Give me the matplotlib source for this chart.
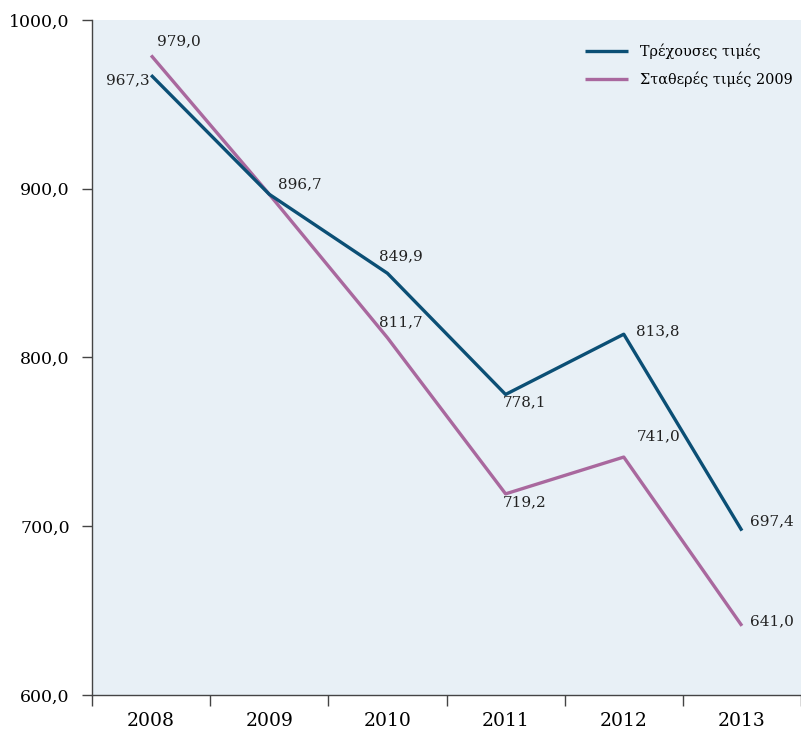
import matplotlib.pyplot as plt
from matplotlib.ticker import FixedLocator, FuncFormatter

years = ["2008", "2009", "2010", "2011", "2012", "2013"]
current_prices = [967.3, 896.7, 849.9, 778.1, 813.8, 697.4]
constant_prices = [979.0, 896.7, 811.7, 719.2, 741.0, 641.0]
y_ticks = [600, 700, 800, 900, 1000]

# label offsets in points (dx, dy, ha, va); None = no label
current_offsets = [(-1, -4, "right", "center"), (6, 7, "left", "center"),
                   (-6, 12, "left", "center"), (-2, -6, "left", "center"),
                   (9, 2, "left", "center"), (6, 7, "left", "center")]
constant_offsets = [(4, 10, "left", "center"), None,
                    (-6, 11, "left", "center"), (-2, -6, "left", "center"),
                    (9, 15, "left", "center"), (6, 3, "left", "center")]

plt.rcParams["font.family"] = ["DejaVu Serif"]

fig = plt.figure(figsize=(8.01, 7.34), dpi=100)
ax = fig.add_axes([0.1149, 0.0531, 0.8851, 0.9197])
ax.set_facecolor("#e8f0f6")

x = list(range(len(years)))
ax.plot(x, current_prices, color="#0b4f75", lw=2.4, label="Τρέχουσες τιμές",
        solid_capstyle="butt", zorder=3)
ax.plot(x, constant_prices, color="#a9689e", lw=2.4, label="Σταθερές τιμές 2009",
        solid_capstyle="butt", zorder=2)

def fmt(v):
    return f"{v:.1f}".replace(".", ",")

for values, offsets in ((current_prices, current_offsets), (constant_prices, constant_offsets)):
    for i, (v, off) in enumerate(zip(values, offsets)):
        if off is None:
            continue
        dx, dy, ha, va = off
        ax.annotate(fmt(v), (i, v), xytext=(dx, dy), textcoords="offset points",
                    ha=ha, va=va, fontsize=11, color="#222222")

ax.set_xlim(-0.5, len(years) - 0.5)
ax.set_ylim(600, 1000)
ax.set_yticks(y_ticks)
ax.yaxis.set_major_formatter(FuncFormatter(lambda v, p: fmt(v)))

ax.set_xticks(x)
ax.set_xticklabels(years)
ax.xaxis.set_minor_locator(FixedLocator([i - 0.5 for i in range(len(years) + 1)]))
ax.tick_params(axis="x", which="major", length=0, pad=12, labelsize=13.5)
ax.tick_params(axis="x", which="minor", length=8, width=1, color="#444444")
ax.tick_params(axis="y", length=7, width=1, color="#444444", labelsize=12.5, pad=9)

for side in ("top", "right"):
    ax.spines[side].set_visible(False)
for side in ("left", "bottom"):
    ax.spines[side].set_color("#444444")
    ax.spines[side].set_linewidth(1)

ax.legend(loc="upper right", bbox_to_anchor=(1.006, 0.985), frameon=False,
          fontsize=10.4, handlelength=3, labelspacing=0.9)

fig.savefig("out.png", dpi=100)
